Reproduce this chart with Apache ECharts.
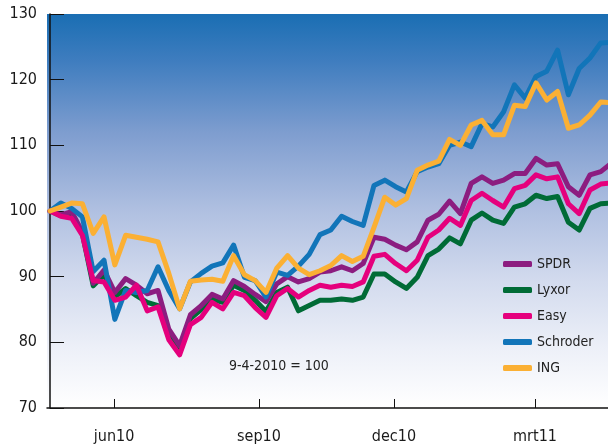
<!DOCTYPE html>
<html>
<head>
<meta charset="utf-8">
<script src="https://cdn.jsdelivr.net/npm/echarts@6/dist/echarts.min.js"></script>
<style>
html,body{margin:0;padding:0;background:#fff;}
#chart{width:608px;height:445px;}
</style>
</head>
<body>
<div id="chart"></div>
<script>
// Weekly index values, 9-4-2010 = 100
var spdr = [100,99.4,99.9,96.8,89.0,91.0,87.6,89.7,88.7,87.4,87.9,82.0,79.5,84.2,85.6,87.3,86.6,89.4,88.5,87.3,86.2,88.9,90.0,89.2,89.7,90.7,90.9,91.5,90.9,92.0,96.0,95.7,94.8,94.1,95.3,98.6,99.5,101.5,99.6,104.2,105.2,104.2,104.7,105.7,105.7,108.0,107.0,107.2,103.7,102.4,105.5,106.0,107.3];
var lyxor = [100,99.3,99.5,96.5,88.6,90.3,86.9,88.2,87.1,86.1,85.6,81.2,79.0,83.6,85.0,86.6,86.1,88.7,87.9,86.4,84.7,87.6,88.4,84.8,85.6,86.4,86.4,86.6,86.4,86.9,90.4,90.4,89.2,88.2,89.9,93.2,94.2,95.9,95.0,98.6,99.7,98.6,98.1,100.6,101.1,102.4,101.9,102.2,98.3,97.1,100.4,101.1,101.2];
var easy = [100,99.2,98.9,96.3,89.4,89.2,86.4,86.9,88.7,84.8,85.4,80.4,78.1,82.7,83.8,86.1,85.1,87.6,87.1,85.3,83.8,87.1,88.2,86.9,87.9,88.7,88.4,88.7,88.5,89.2,93.1,93.4,92.0,90.9,92.5,96.0,97.1,98.9,97.8,101.6,102.7,101.6,100.6,103.4,103.9,105.5,104.9,105.2,101.1,99.6,103.2,104.1,104.3];
var schroder = [100,101.2,100.4,99.1,90.8,92.5,83.5,87.9,87.6,87.9,91.5,87.9,85.1,89.2,90.5,91.6,92.1,94.8,89.9,89.4,86.9,90.7,90.2,91.6,93.4,96.4,97.1,99.2,98.4,97.8,103.9,104.7,103.7,102.9,106.0,106.7,107.2,110.0,110.5,109.8,113.3,112.8,115.1,119.2,117.2,120.5,121.3,124.5,117.7,121.7,123.3,125.6,125.7];
var ing = [100,100.6,101.2,101.1,96.6,99.1,91.8,96.3,96.0,95.7,95.3,90.5,85.1,89.3,89.5,89.6,89.3,93.2,90.3,89.4,87.6,91.3,93.2,91.3,90.3,90.9,91.7,93.2,92.3,93.1,97.5,102.1,100.9,101.9,106.2,107.0,107.6,110.9,110.0,113.1,113.8,111.6,111.6,116.1,115.9,119.5,116.9,118.2,112.6,113.1,114.6,116.6,116.5];

var seriesNames = ['SPDR','Lyxor','Easy','Schroder','ING'];
var monthLabels = ['jun10','sep10','dec10','mrt11'];
var monthTickWeeks = [5.93,19.35,31.85,44.91];
var yTicks = [70,80,90,100,110,120,130];

var colors = {SPDR:'#8c1d80', Lyxor:'#006b36', Easy:'#e5007d', Schroder:'#1275b9', ING:'#fbb034'};
var values = {SPDR:spdr, Lyxor:lyxor, Easy:easy, Schroder:schroder, ING:ing};
var drawOrder = ['Lyxor','SPDR','Schroder','Easy','ING'];

var FONT = '"Liberation Sans Narrow","DejaVu Sans Condensed","Noto Sans",sans-serif';

function pairs(arr){ return arr.map(function(v,i){ return [i,v]; }); }

var chart = echarts.init(document.getElementById('chart'), null, {renderer:'canvas'});
chart.setOption({
  animation:false,
  backgroundColor:'#ffffff',
  grid:{
    left:47, right:0, top:14, bottom:37,
    show:true, borderWidth:0,
    backgroundColor:{type:'linear',x:0,y:0,x2:0,y2:1,colorStops:[
      {offset:0,color:'#1a6eb3'},
      {offset:0.12,color:'#3f7dbf'},
      {offset:0.3,color:'#7e9dcf'},
      {offset:0.5,color:'#b0c0e1'},
      {offset:0.68,color:'#d3dbee'},
      {offset:0.85,color:'#edf0f8'},
      {offset:1,color:'#ffffff'}
    ]}
  },
  xAxis:{
    type:'value', min:-0.28, max:51.67,
    axisLine:{show:true,lineStyle:{color:'#111',width:1.5}},
    axisTick:{show:true,inside:true,length:9,customValues:monthTickWeeks,lineStyle:{color:'#111',width:1}},
    axisLabel:{show:true,customValues:monthTickWeeks,margin:21,fontSize:16,color:'#1a1a1a',fontFamily:FONT,
      formatter:function(v){ var i = monthTickWeeks.indexOf(v); return i>=0 ? monthLabels[i] : ''; }},
    splitLine:{show:false}
  },
  yAxis:{
    type:'value', min:yTicks[0], max:yTicks[yTicks.length-1], interval:10,
    axisLine:{show:true,lineStyle:{color:'#111',width:1.5}},
    axisTick:{show:true,inside:true,length:14,lineStyle:{color:'#111',width:1}},
    axisLabel:{margin:10,fontSize:16,color:'#1a1a1a',fontFamily:FONT},
    splitLine:{show:false}
  },
  legend:{
    data:seriesNames.map(function(n){return {name:n,icon:'roundRect'};}),
    orient:'vertical', left:503, top:257, padding:0,
    itemWidth:29, itemHeight:6, itemGap:12,
    textStyle:{fontSize:14,color:'#222',fontFamily:FONT}
  },
  graphic:[{
    type:'text', left:229, top:359,
    style:{text:'9-4-2010 = 100', fill:'#222', font:'14px '+FONT}
  }],
  series: drawOrder.map(function(n){
    return {
      name:n, type:'line', data:pairs(values[n]),
      symbol:'none', clip:true,
      lineStyle:{color:colors[n],width:5,join:'round',cap:'round'},
      itemStyle:{color:colors[n]},
      emphasis:{disabled:true}
    };
  })
});
</script>
</body>
</html>
